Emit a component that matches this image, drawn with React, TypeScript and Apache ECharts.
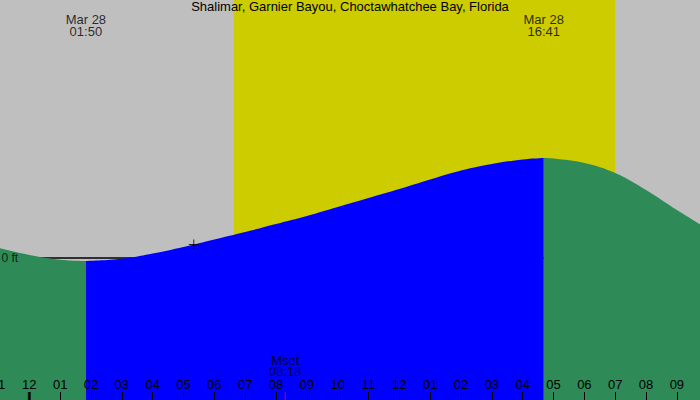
import React, { useEffect, useRef } from "react";
import * as echarts from "echarts";

// Tide heights (ft) at hours since midnight, Mar 28
const tideHours = [-1, 0, 1, 1 + 50 / 60, 3, 4, 5, 6, 7, 8, 9, 10, 11, 12, 13, 14, 15, 16, 16 + 41 / 60, 17, 18, 19, 20, 21, 22];
const tideFt = [0.10, 0.03, -0.017, -0.03, -0.008, 0.045, 0.11, 0.185, 0.26, 0.34, 0.42, 0.51, 0.60, 0.69, 0.785, 0.875, 0.94, 0.985, 1.0, 0.995, 0.95, 0.85, 0.68, 0.48, 0.29];

const lowTideHour = 1 + 50 / 60;
const highTideHour = 16 + 41 / 60;
const extremeHours = [lowTideHour, highTideHour];
const extremeLabels = ["Mar 28\n01:50", "Mar 28\n16:41"];

const sunrise = 6 + 38 / 60;
const sunset = 19;

const moonsetHour = 8 + 18 / 60;
const moonsetLabel = "Mset\n08:18";

const nowHour = 5 + 20 / 60;
const nowFt = 0.135;

const hourLabels = ["11", "12", "01", "02", "03", "04", "05", "06", "07", "08", "09", "10", "11", "12", "01", "02", "03", "04", "05", "06", "07", "08", "09"];

const title = "Shalimar, Garnier Bayou, Choctawhatchee Bay, Florida";

const X_MIN = -1;
const X_MAX = 21.75;
const Y_MIN = -1.42;
const Y_MAX = 2.58;

const FONT = "Liberation Sans";
const FS = 13;
const GREEN = "#2e8b57";
const BLUE = "#0000ff";
const YELLOW = "#cccc00";
const GRAY = "#bfbfbf";

export default function App() {
  const ref = useRef<HTMLDivElement>(null);
  useEffect(() => {
    if (!ref.current) return;
    const chart = echarts.init(ref.current, undefined, { renderer: "svg" });
    const pts = tideHours.map((h, i) => [h, tideFt[i]]);
    const left = pts.filter((p) => p[0] <= lowTideHour + 1e-9);
    const mid = pts.filter((p) => p[0] >= lowTideHour - 1e-9 && p[0] <= highTideHour + 1e-9);
    const right = pts.filter((p) => p[0] >= highTideHour - 1e-9);
    const tideSeries = (data: number[][], color: string) => ({
      type: "line",
      data,
      smooth: 0.4,
      showSymbol: false,
      symbol: "none",
      z: 3,
      lineStyle: { width: 0, color },
      itemStyle: { color },
      areaStyle: { color, opacity: 1, origin: "start" },
      silent: true,
    });
    chart.setOption({
      animation: false,
      backgroundColor: GRAY,
      textStyle: { fontFamily: FONT },
      title: {
        text: title,
        left: "center",
        top: 0,
        padding: 0,
        textStyle: { fontFamily: FONT, fontSize: FS, fontWeight: "normal", color: "#000" },
      },
      grid: { left: -1.5, right: 0, top: 0, bottom: 0, containLabel: false, outerBoundsMode: "none" },
      xAxis: {
        type: "value",
        min: X_MIN,
        max: X_MAX,
        interval: 1,
        axisLine: { show: false, onZero: false },
        splitLine: { show: false },
        axisTick: { inside: true, length: 8, lineStyle: { color: "#000", width: 1 } },
        axisLabel: {
          inside: true,
          margin: 9,
          color: "#000",
          fontFamily: FONT,
          fontSize: FS,
          showMaxLabel: false,
          hideOverlap: false,
          formatter: (v: number) => (Number.isInteger(v) ? hourLabels[v - X_MIN] ?? "" : ""),
        },
        z: 10,
      },
      yAxis: {
        type: "value",
        min: Y_MIN,
        max: Y_MAX,
        show: false,
        splitLine: { show: false },
      },
      series: [
        {
          type: "line",
          data: [[sunrise, Y_MAX], [sunset, Y_MAX]],
          showSymbol: false,
          symbol: "none",
          z: 1,
          lineStyle: { width: 0, opacity: 0 },
          areaStyle: { color: YELLOW, opacity: 1, origin: "start" },
          silent: true,
        },
        {
          type: "line",
          data: [[X_MIN, 0], [22, 0]],
          showSymbol: false,
          symbol: "none",
          z: 2,
          lineStyle: { width: 1.5, color: "#000" },
          silent: true,
        },
        tideSeries(left, GREEN),
        tideSeries(mid, BLUE),
        tideSeries(right, GREEN),
        {
          type: "scatter",
          z: 6,
          data: [[nowHour, nowFt]],
          symbol: "path://M5 0 L5 10 M0 5 L10 5",
          symbolSize: 10,
          itemStyle: { color: "transparent", borderColor: "#000", borderWidth: 1 },
          silent: true,
        },
        {
          type: "scatter",
          z: 6,
          data: extremeHours.map((h, i) => ({ value: [h, Y_MAX], label: { formatter: extremeLabels[i] } })),
          symbolSize: 0,
          label: {
            show: true,
            position: "bottom",
            distance: 13,
            color: "#000",
            fontFamily: FONT,
            fontSize: FS,
            lineHeight: 12,
            align: "center",
          },
          silent: true,
        },
        {
          type: "scatter",
          z: 6,
          data: [[X_MIN, 0]],
          symbolSize: 0,
          label: {
            show: true,
            position: "right",
            distance: 3,
            formatter: "0 ft",
            color: "#000",
            fontFamily: FONT,
            fontSize: 12,
          },
          silent: true,
        },
        {
          type: "scatter",
          z: 6,
          data: [[0, Y_MIN]],
          symbol: "rect",
          symbolSize: [3, 16],
          itemStyle: { color: "#000" },
          silent: true,
        },
        {
          type: "scatter",
          z: 6,
          data: [[moonsetHour, Y_MIN]],
          symbol: "rect",
          symbolSize: [1, 16],
          itemStyle: { color: "#ff0000" },
          label: {
            show: true,
            position: "top",
            distance: 15,
            formatter: moonsetLabel,
            color: "#000",
            fontFamily: FONT,
            fontSize: FS,
            lineHeight: 11,
            align: "center",
          },
          silent: true,
        },
      ],
    });
    return () => chart.dispose();
  }, []);
  return <div ref={ref} style={{ position: "fixed", left: 0, top: 0, width: 700, height: 400 }} />;
}
